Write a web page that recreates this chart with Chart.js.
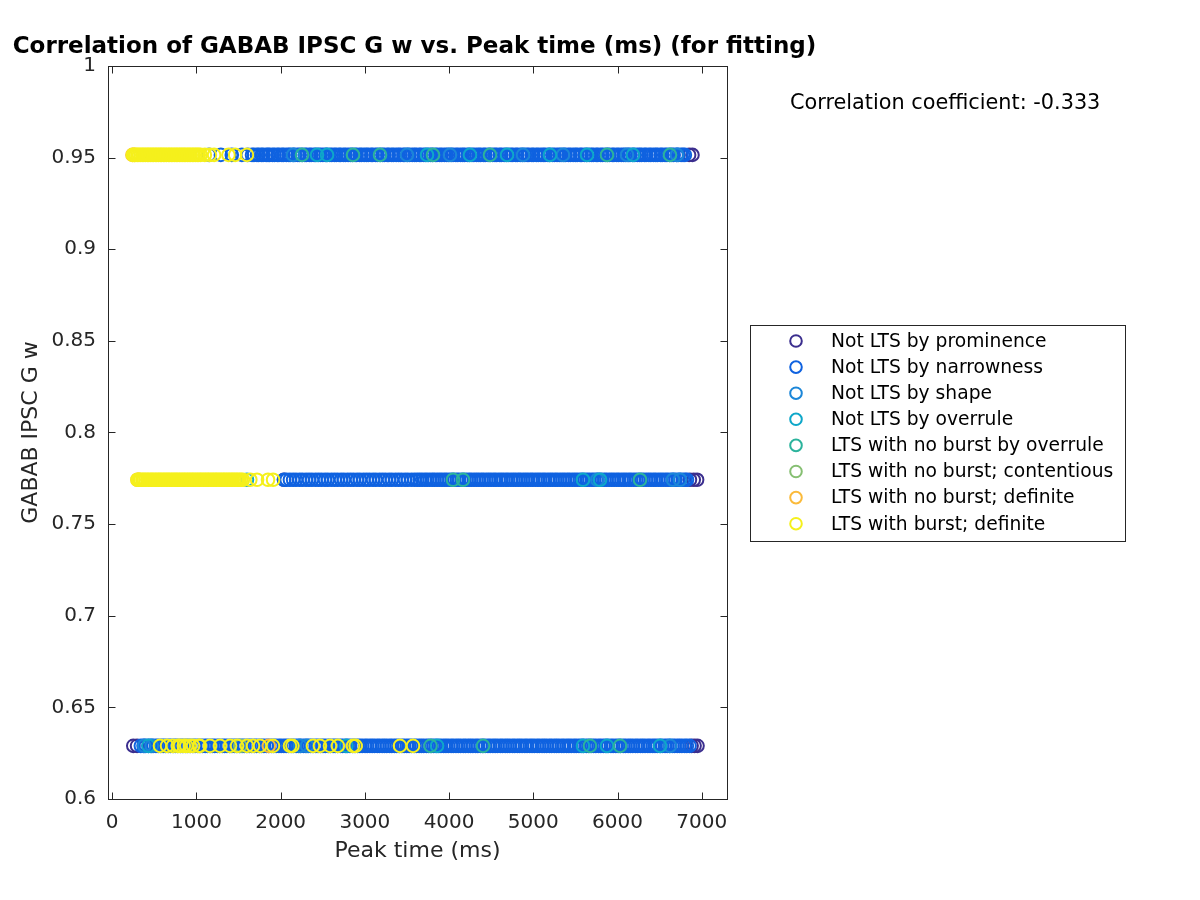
<!DOCTYPE html>
<html>
<head>
<meta charset="utf-8">
<script src="https://cdn.jsdelivr.net/npm/chart.js"></script>
<style>
    html, body { margin: 0; padding: 0; background: #fff; }
    #wrap { width: 1200px; height: 900px; }
</style>
</head>
<body>
<div id="wrap"><canvas id="chart" width="1200" height="900"></canvas></div>
<script>
// --- data ---
const chartTitle = 'Correlation of GABAB IPSC G w vs. Peak time (ms) (for fitting)';
const categories = [
    'Not LTS by prominence',
    'Not LTS by narrowness',
    'Not LTS by shape',
    'Not LTS by overrule',
    'LTS with no burst by overrule',
    'LTS with no burst; contentious',
    'LTS with no burst; definite',
    'LTS with burst; definite',
];
const colors = ['#3b2e8e', '#0f62e0', '#1b86d8', '#0ea7c9', '#2bb39c', '#86bf72', '#fbba3a', '#f5f01c'];

// the three GABAB IPSC G w levels (rows)
const yLevels = [0.9515, 0.7742, 0.6290];
const xTicks = [0, 1000, 2000, 3000, 4000, 5000, 6000, 7000];
const yTicks = [0.6, 0.65, 0.7, 0.75, 0.8, 0.85, 0.9, 0.95, 1];
const correlation = -0.333;

// peak times (ms) per category, per row (hi / mid / lo)
const promHi = [6850, 6890];
const promMid = [2040, 6860, 6905, 6945];
const promLo = [250, 295, 6880, 6915, 6950];

const narrowHi = [1150, 1290, 1420, 1540, 1610,
    1660, 1683, 1719, 1740, 1772, 1791, 1828, 1850, 1869, 1904, 1927, 1961, 1980, 2015, 2034, 2068, 2097, 2113, 2149, 2170,
    2204, 2226, 2255, 2288, 2306, 2341, 2362, 2397, 2415, 2450, 2473, 2502, 2531, 2549, 2584, 2607, 2638, 2660, 2694, 2712,
    2747, 2770, 2801, 2829, 2850, 2884, 2903, 2939, 2960, 2991, 3018, 3040, 3075, 3093, 3128, 3150, 3181, 3209, 3230, 3266,
    3284, 3318, 3340, 3372, 3400, 3421, 3457, 3475, 3509, 3531, 3563, 3590, 3612, 3647, 3666, 3700, 3722, 3754, 3781, 3802,
    3838, 3856, 3890, 3913, 3945, 3972, 3993, 4028, 4047, 4081, 4104, 4136, 4163, 4184, 4219, 4238, 4272, 4295, 4327, 4354,
    4375, 4410, 4429, 4463, 4486, 4518, 4545, 4566, 4601, 4620, 4654, 4677, 4709, 4736, 4757, 4792, 4811, 4845, 4868, 4900,
    4927, 4948, 4983, 5002, 5036, 5059, 5091, 5118, 5139, 5174, 5193, 5227, 5250, 5282, 5309, 5330, 5365, 5384, 5418, 5441,
    5473, 5500, 5521, 5556, 5575, 5609, 5632, 5664, 5691, 5712, 5747, 5766, 5800, 5823, 5855, 5882, 5903, 5938, 5957, 5991,
    6014, 6046, 6073, 6094, 6129, 6148, 6182, 6205, 6237, 6264, 6285, 6320, 6339, 6373, 6396, 6428, 6455, 6476, 6511, 6530,
    6564, 6587, 6619, 6646, 6667, 6702, 6721, 6755, 6778, 6800];
const narrowMid = [2040, 2071, 2110, 2148, 2183, 2225, 2259, 2301, 2337, 2372, 2414, 2450, 2486, 2527, 2561, 2603, 2640,
    2676, 2717, 2751, 2793, 2830, 2866, 2907, 2941, 2983, 3020, 3056, 3097, 3131, 3173, 3210, 3246, 3287, 3321, 3363, 3400,
    3436, 3477, 3511, 3553, 3590, 3622, 3651, 3680, 3712, 3739, 3770, 3801, 3826, 3858, 3887, 3915, 3946, 3972, 4004, 4033,
    4061, 4092, 4118, 4150, 4179, 4207, 4238, 4264, 4296, 4325, 4353, 4384, 4410, 4442, 4471, 4499, 4530, 4556, 4588, 4617,
    4645, 4676, 4702, 4734, 4763, 4791, 4822, 4848, 4880, 4909, 4937, 4968, 4994, 5026, 5055, 5083, 5114, 5140, 5172, 5201,
    5229, 5260, 5286, 5318, 5347, 5375, 5406, 5432, 5464, 5493, 5521, 5552, 5578, 5610, 5639, 5667, 5698, 5724, 5756, 5785,
    5813, 5844, 5870, 5902, 5931, 5959, 5990, 6016, 6048, 6077, 6105, 6136, 6162, 6194, 6223, 6251, 6282, 6308, 6340, 6369,
    6397, 6428, 6454, 6486, 6515, 6543, 6574, 6600, 6632, 6661, 6689, 6720, 6746, 6778, 6805, 6825];
const narrowLo = [340, 372, 398, 431, 459, 487, 520, 546, 578, 605, 633, 666, 692, 724, 751, 779, 812, 838, 870, 897, 925,
    958, 984, 1016, 1043, 1071, 1104, 1130, 1162, 1189, 1217, 1250, 1276, 1308, 1335, 1363, 1396, 1422, 1454, 1481, 1509,
    1542, 1568, 1600, 1627, 1655, 1688, 1714, 1746, 1773, 1801, 1834, 1860, 1892, 1919, 1947, 1980, 2006, 2038, 2065, 2093,
    2126, 2152, 2184, 2211, 2239, 2272, 2298, 2330, 2357, 2385, 2418, 2444, 2476, 2503, 2531, 2564, 2590, 2622, 2649, 2677,
    2710, 2736, 2768, 2795, 2823, 2856, 2882, 2914, 2941, 2969, 3002, 3028, 3060, 3087, 3115, 3148, 3174, 3206, 3233, 3261,
    3294, 3320, 3352, 3379, 3407, 3440, 3466, 3498, 3525, 3553, 3586, 3612, 3644, 3671, 3699, 3732, 3758, 3790, 3817, 3845,
    3878, 3904, 3936, 3963, 3991, 4024, 4050, 4082, 4109, 4137, 4170, 4196, 4228, 4255, 4283, 4316, 4342, 4374, 4401, 4429,
    4462, 4488, 4520, 4547, 4575, 4608, 4634, 4666, 4693, 4721, 4754, 4780, 4812, 4839, 4867, 4900, 4926, 4958, 4985, 5013,
    5046, 5072, 5104, 5131, 5159, 5192, 5218, 5250, 5277, 5305, 5338, 5364, 5396, 5423, 5451, 5484, 5510, 5542, 5569, 5597,
    5630, 5656, 5688, 5715, 5743, 5776, 5802, 5834, 5861, 5889, 5922, 5948, 5980, 6007, 6035, 6068, 6094, 6126, 6153, 6181,
    6214, 6240, 6272, 6299, 6327, 6360, 6386, 6418, 6445, 6473, 6506, 6532, 6564, 6591, 6619, 6652, 6678, 6710, 6737, 6765,
    6798, 6824, 6856];

const shapeHi = [2147, 3500, 4011, 4878, 5353, 6113, 6706];
const shapeMid = [5760, 6659, 6742];
const shapeLo = [380, 470, 2230, 2313, 6623];

const overruleHi = [2432, 2551, 3738, 4248, 4688, 5198, 5638, 6184];
const overruleMid = [1600, 5590, 5792];
const overruleLo = [430, 2780, 3857, 5590, 5875, 6505];

const noBurstOverruleHi = [2254, 2859, 3180, 3809, 4486, 5875, 6623];
const noBurstOverruleMid = [4047, 4165, 6267];
const noBurstOverruleLo = [3780, 4403, 5673, 6030];

const contentiousHi = [];
const contentiousMid = [];
const contentiousLo = [1520];

const definiteHi = [240, 262];
const definiteMid = [300, 320];
const definiteLo = [1860];

const burstHi = [245, 262, 281, 300, 318, 339, 357, 376, 395, 417, 434, 452, 473, 490, 511, 529, 548, 570, 586, 607, 625,
    644, 666, 683, 702, 721, 742, 760, 779, 800, 817, 838, 855, 874, 896, 913, 932, 953, 970, 991, 1010, 1028, 1050,
    1100, 1160, 1210, 1380, 1460, 1600];
const burstMid = [300, 318, 337, 359, 376, 395, 416, 433, 455, 472, 491, 512, 530, 551, 568, 587, 608, 626, 647, 664, 683,
    704, 722, 743, 760, 779, 800, 818, 839, 856, 875, 896, 914, 935, 952, 971, 992, 1010, 1031, 1048, 1067, 1088, 1106,
    1127, 1144, 1163, 1184, 1202, 1223, 1240, 1259, 1280, 1298, 1319, 1336, 1355, 1376, 1394, 1415, 1432, 1451, 1472, 1490,
    1511, 1530, 1552, 1640, 1720, 1850, 1910];
const burstLo = [567, 651, 720, 780, 805, 850, 880, 924, 960, 1030, 1042, 1161, 1280, 1399, 1482, 1600, 1672, 1755, 1909,
    2111, 2140, 2384, 2467, 2586, 2680, 2859, 2890, 3417, 3572];

const peakTimes = [
    [promHi, promMid, promLo],
    [narrowHi, narrowMid, narrowLo],
    [shapeHi, shapeMid, shapeLo],
    [overruleHi, overruleMid, overruleLo],
    [noBurstOverruleHi, noBurstOverruleMid, noBurstOverruleLo],
    [contentiousHi, contentiousMid, contentiousLo],
    [definiteHi, definiteMid, definiteLo],
    [burstHi, burstMid, burstLo],
];

const FONT = '"DejaVu Sans", "Liberation Sans", sans-serif';
const INK = '#262626';

// frame with inward ticks on all four sides, title, legend box and the coefficient text
const decorPlugin = {
    id: 'decor',
    afterDraw(chart) {
        const { ctx, chartArea: a, scales: { x, y } } = chart;
        ctx.save();
        ctx.strokeStyle = INK;
        ctx.lineWidth = 1;
        const L = Math.round(a.left) + 0.5, R = Math.round(a.right) + 0.5;
        const T = Math.round(a.top) + 0.5, B = Math.round(a.bottom) + 0.5;
        ctx.strokeRect(L, T, R - L, B - T);
        ctx.beginPath();
        for (const v of xTicks) {
            const px = Math.round(x.getPixelForValue(v)) + 0.5;
            ctx.moveTo(px, B); ctx.lineTo(px, B - 7);
            ctx.moveTo(px, T); ctx.lineTo(px, T + 7);
        }
        for (const v of yTicks) {
            const py = Math.round(y.getPixelForValue(v)) + 0.5;
            ctx.moveTo(L, py); ctx.lineTo(L + 7, py);
            ctx.moveTo(R, py); ctx.lineTo(R - 7, py);
        }
        ctx.stroke();

        // title
        ctx.fillStyle = '#000';
        ctx.font = `bold 23px ${FONT}`;
        ctx.textAlign = 'center';
        ctx.textBaseline = 'middle';
        ctx.fillText(chartTitle, 414.5, 47);

        // correlation text
        ctx.font = `20.8px ${FONT}`;
        ctx.textAlign = 'left';
        ctx.fillText(`Correlation coefficient: ${correlation.toFixed(3)}`, 790, 104);

        // legend
        ctx.fillStyle = '#fff';
        ctx.fillRect(750.5, 325.5, 375, 216);
        ctx.strokeStyle = INK;
        ctx.lineWidth = 1;
        ctx.strokeRect(750.5, 325.5, 375, 216);
        ctx.font = `18.7px ${FONT}`;
        categories.forEach((name, i) => {
            const cy = 341 + i * 26.1;
            ctx.beginPath();
            ctx.lineWidth = 2;
            ctx.strokeStyle = colors[i];
            ctx.arc(796, cy, 5.8, 0, Math.PI * 2);
            ctx.stroke();
            ctx.fillStyle = '#000';
            ctx.fillText(name, 831, cy + 1);
        });
        ctx.restore();
    }
};

const datasets = categories.map((name, i) => ({
    label: name,
    data: peakTimes[i].flatMap((xs, k) => xs.map(v => ({ x: v, y: yLevels[k] }))),
    borderColor: colors[i],
    backgroundColor: 'rgba(0,0,0,0)',
    pointRadius: 6.3,
    pointHoverRadius: 6.3,
    pointBorderWidth: 2,
    order: categories.length - 1 - i,
}));

new Chart(document.getElementById('chart').getContext('2d'), {
    type: 'scatter',
    data: { datasets },
    options: {
        responsive: false,
        animation: false,
        events: [],
        layout: { padding: { left: 0, right: 473, top: 66, bottom: 0 } },
        plugins: {
            legend: { display: false },
            tooltip: { enabled: false },
            title: { display: false },
        },
        scales: {
            x: {
                type: 'linear',
                min: -50,
                max: 7300,
                grid: { display: false, drawTicks: false },
                border: { display: false },
                afterBuildTicks: (s) => { s.ticks = xTicks.map(v => ({ value: v })); },
                afterFit: (s) => { s.height = 101; s.paddingLeft = 0; s.paddingRight = 0; },
                ticks: {
                    color: INK, font: { family: FONT, size: 20 }, padding: 12, maxRotation: 0, autoSkip: false,
                    callback: (v) => String(v),
                },
                title: {
                    display: true, text: 'Peak time (ms)', color: INK,
                    font: { family: FONT, size: 22 }, padding: { top: 0, bottom: 36 },
                },
            },
            y: {
                type: 'linear',
                min: 0.6,
                max: 1,
                grid: { display: false, drawTicks: false },
                border: { display: false },
                afterBuildTicks: (s) => { s.ticks = yTicks.map(v => ({ value: v })); },
                afterFit: (s) => { s.width = 108; s.paddingTop = 0; s.paddingBottom = 0; },
                ticks: {
                    color: INK, font: { family: FONT, size: 20 }, padding: 12, autoSkip: false,
                    callback: (v) => String(+v.toFixed(2)),
                },
                title: {
                    display: true, text: 'GABAB IPSC G w', color: INK,
                    font: { family: FONT, size: 22 }, padding: { top: 18, bottom: 0 },
                },
            },
        },
    },
    plugins: [decorPlugin],
});
</script>
</body>
</html>
